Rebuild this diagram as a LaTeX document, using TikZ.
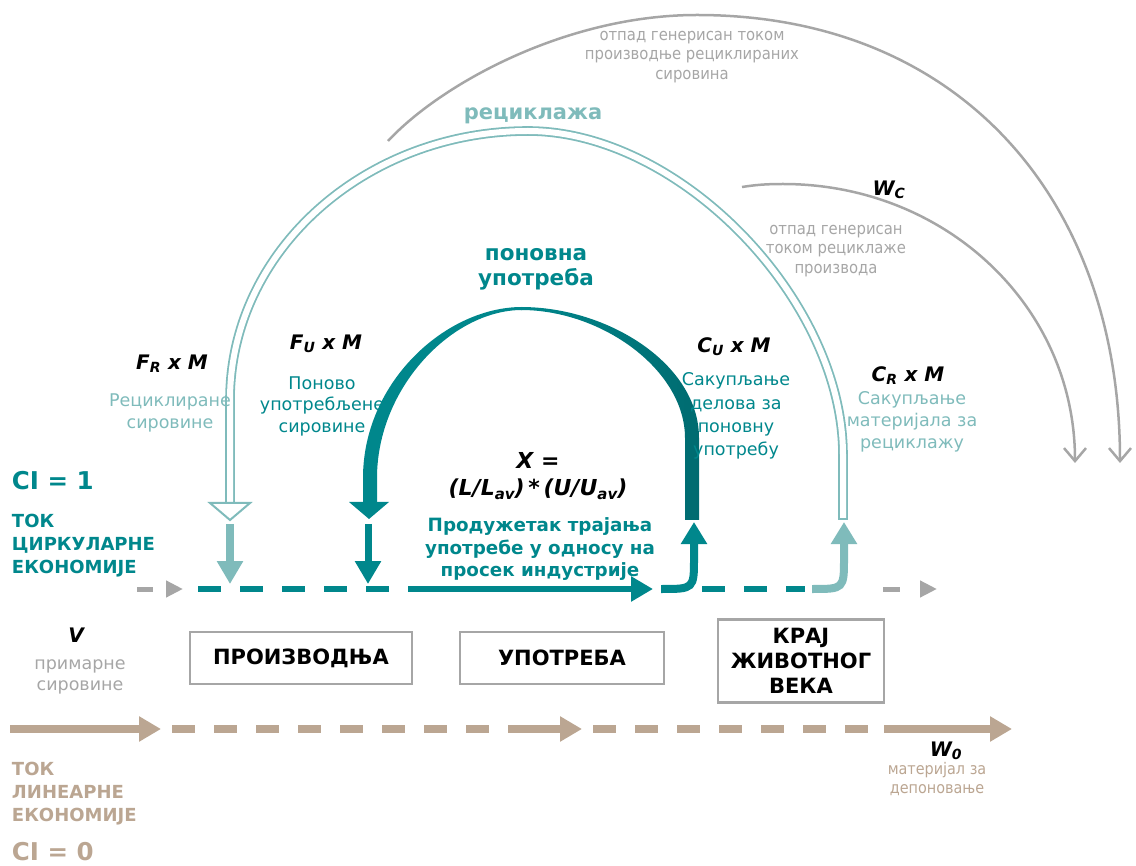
\documentclass[tikz,border=0pt]{standalone}
\usepackage{fontspec}
\setmainfont{DejaVu Sans}
\newfontfamily\cond{DejaVu Sans Condensed}
\usetikzlibrary{arrows.meta}
\definecolor{tealA}{HTML}{00878C}
\definecolor{tealB}{HTML}{006B70}
\definecolor{lteal}{HTML}{7FBBBB}
\definecolor{gry}{HTML}{A6A6A6}
\definecolor{tanc}{HTML}{BBA692}
\newcommand{\sbx}[1]{\raisebox{-0.18em}{\fontsize{15}{15}\selectfont #1}}
\tikzset{
  every node/.style={inner sep=0pt, outer sep=0pt},
  lbl/.style={font=\fontsize{20}{22}\selectfont\bfseries\itshape, text=black},
  body/.style={font=\fontsize{17.5}{21.5}\selectfont, align=center},
  cnd/.style={font=\cond\fontsize{16.5}{19.5}\selectfont, align=center, text=gry},
  headl/.style={font=\fontsize{18}{23}\selectfont\bfseries, align=left, anchor=west},
  stagebox/.style={draw=gry, line width=2.5pt, font=\fontsize{21}{25}\selectfont\bfseries, align=center, text=black},
  grayarc/.style={draw=gry, line width=2.5pt, -{Straight Barb[length=13pt,width=22pt]}},
  tanline/.style={draw=tanc, line width=8pt},
  tanarrow/.style={tanline, -{Triangle[length=22pt,width=24pt]}},
  tandash/.style={tanline, dash pattern=on 23pt off 19pt},
  tealdash/.style={draw=tealA, line width=6.5pt, dash pattern=on 23pt off 19pt},
  graydash/.style={draw=gry, line width=5pt, dash pattern=on 16pt off 40pt, -{Triangle[length=17pt,width=16pt]}},
}
\begin{document}
\begin{tikzpicture}[x=1pt,y=-1pt]
\useasboundingbox (0,0) rectangle (1136,866);

% ---------- gray waste arcs ----------
\coordinate (g1s) at (388,141);
\coordinate (g1e) at (1120,463);
\coordinate (g2s) at (742,187);
\coordinate (g2e) at (1075,463);
\draw[grayarc] (g1s) .. controls (440,85) and (565,15) .. (697,15) .. controls (960,15) and (1120,200) .. (g1e);
\draw[grayarc] (g2s) .. controls (755,185) and (765,184) .. (783,184) .. controls (945,184) and (1075,306) .. (g2e);

% ---------- recycling arc (double line) ----------
\coordinate (rs) at (230,503);
\coordinate (re) at (843,519);
\draw[lteal, line width=1.8pt, double=white, double distance=6pt]
  (rs) -- (230,400) .. controls (230,251) and (365,131) .. (528,131) .. controls (680,131) and (843,300) .. (843,455) -- (re);
\draw[lteal, line width=2pt] (838,519) -- (848,519);
\draw[lteal, line width=2pt, fill=white, line join=miter] (210,503) -- (250,503) -- (230,520) -- cycle;

% ---------- reuse arc (tapered) ----------
\fill[tealA] (363,503) -- (363,478) .. controls (363,382) and (446,307) .. (522,307) -- (522,310) .. controls (452,310) and (377,388) .. (377,478) -- (377,503) -- cycle;
\shade[left color=tealA, right color=tealB] (521,307) .. controls (608,307) and (699,364) .. (699,438) -- (699,520) -- (685,520) -- (685,438) .. controls (685,370) and (602,310) .. (521,310) -- cycle;
\fill[tealA] (349,502) -- (389,502) -- (369,519) -- cycle;

% ---------- short input arrows ----------
\coordinate (ra1) at (230,524);
\coordinate (ra2) at (230,584);
\coordinate (ua1) at (368,524);
\coordinate (ua2) at (368,584);
\draw[lteal, line width=8pt, -{Triangle[length=23pt,width=25pt]}] (ra1) -- (ra2);
\draw[tealA, line width=7pt, -{Triangle[length=23pt,width=25pt]}] (ua1) -- (ua2);

% ---------- circular flow line ----------
\coordinate (c0) at (137,589);
\coordinate (c1) at (183,589);
\coordinate (c2) at (198,589);
\coordinate (c3) at (420,589);
\coordinate (c4) at (408,589);
\coordinate (c5) at (653,589);
\coordinate (c6) at (661,589);
\coordinate (c7) at (694,522);
\coordinate (c8) at (702,589);
\coordinate (c9) at (805,589);
\coordinate (c10) at (812,589);
\coordinate (c11) at (844,522);
\coordinate (c12) at (883,589);
\coordinate (c13) at (937,589);
\draw[graydash] (c0) -- (c1);
\draw[tealdash] (c2) -- (c3);
\draw[tealA, line width=6.5pt, -{Triangle[length=22pt,width=24pt]}] (c4) -- (c5);
\draw[tealA, line width=8pt, -{Triangle[length=22pt,width=25pt]}] (c6) .. controls (694,589) .. (694,558) -- (c7);
\draw[tealdash] (c8) -- (c9);
\draw[lteal, line width=8pt, -{Triangle[length=22pt,width=25pt]}] (c10) .. controls (844,589) .. (844,558) -- (c11);
\draw[graydash, dash pattern=on 17pt off 40pt] (c12) -- (c13);

% ---------- linear flow line ----------
\coordinate (t0) at (10,729);
\coordinate (t1) at (161,729);
\coordinate (t2) at (172,729);
\coordinate (t3) at (495,729);
\coordinate (t4) at (508,729);
\coordinate (t5) at (582,729);
\coordinate (t6) at (593,729);
\coordinate (t7) at (872,729);
\coordinate (t8) at (884,729);
\coordinate (t9) at (1012,729);
\draw[tanarrow] (t0) -- (t1);
\draw[tandash] (t2) -- (t3);
\draw[tanarrow] (t4) -- (t5);
\draw[tandash] (t6) -- (t7);
\draw[tanarrow] (t8) -- (t9);

% ---------- stage boxes ----------
\node[stagebox, minimum width=222pt, minimum height=52pt] (prod) at (301,658) {ПРОИЗВОДЊА};
\node[stagebox, minimum width=204pt, minimum height=52pt] (use) at (562,658) {УПОТРЕБА};
\node[stagebox, minimum width=166pt, minimum height=83pt] (eol) at (801,661) {КРАЈ\\ЖИВОТНОГ\\ВЕКА};

% ---------- texts ----------
\node[cnd] (w1) at (692,57) {отпад генерисан током\\производње рециклираних\\сировина};
\node[font=\fontsize{21}{24}\selectfont\bfseries, text=lteal] (rec) at (533,116) {рециклажа};
\node[lbl] (wc) at (889,190) {W\textsubscript{C}};
\node[cnd] (w2) at (836,251) {отпад генерисан\\током рециклаже\\производа};
\node[font=\fontsize{21.5}{25}\selectfont\bfseries, text=tealA, align=center] (reu) at (536,269) {поновна\\употреба};

\node[lbl] (fr) at (172,364) {F\textsubscript{R} x M};
\node[body, text=lteal] (frt) at (170,413) {Рециклиране\\сировине};
\node[lbl] (fu) at (326,344) {F\textsubscript{U} x M};
\node[body, text=tealA] (fut) at (322,406) {Поново\\употребљене\\сировине};
\node[lbl] (cu) at (734,347) {C\textsubscript{U} x M};
\node[body, font=\fontsize{17.5}{23.3}\selectfont, text=tealA] (cut) at (736,416) {Сакупљање\\делова за\\поновну\\употребу};
\node[lbl] (cr) at (908,376) {C\textsubscript{R} x M};
\node[body, font=\fontsize{17.5}{22}\selectfont, text=lteal] (crt) at (912,422) {Сакупљање\\материјала за\\рециклажу};

\node[font=\fontsize{24.5}{26}\selectfont\bfseries, text=tealA, anchor=west] (ci1) at (12,481) {CI = 1};
\node[headl, text=tealA] (tce) at (12,546) {ТОК\\ЦИРКУЛАРНЕ\\ЕКОНОМИЈЕ};

\node[font=\fontsize{22}{27}\selectfont\bfseries\itshape, align=center] (x) at (538,476.5) {X =\\(L/L\sbx{av})\,*\,(U/U\sbx{av})};
\node[font=\fontsize{18.3}{22.5}\selectfont\bfseries, text=tealA, align=center] (ext) at (540,549.5) {Продужетак трајања\\употребе у односу на\\просек индустрије};

\node[lbl] (v) at (76,635) {V};
\node[body, text=gry] (vt) at (80,677) {примарне\\сировине};

\node[headl, text=tanc] (tle) at (12,794) {ТОК\\ЛИНЕАРНЕ\\ЕКОНОМИЈЕ};
\node[font=\fontsize{24.5}{26}\selectfont\bfseries, text=tanc, anchor=west] (ci0) at (12,852) {CI = 0};

\node[lbl] (w0) at (946,751) {W\textsubscript{0}};
\node[cnd, text=tanc, font=\cond\fontsize{16}{19}\selectfont] (w0t) at (937,779) {материјал за\\депоновање};
\end{tikzpicture}
\end{document}
